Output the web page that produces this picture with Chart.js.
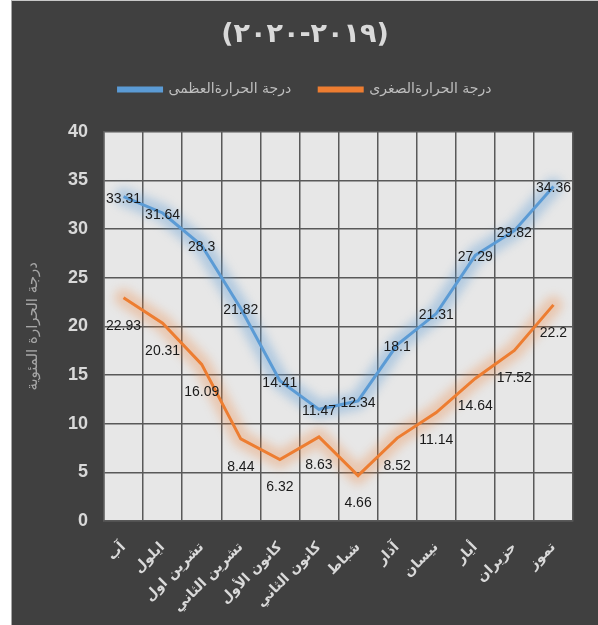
<!DOCTYPE html>
<html lang="ar">
<head>
<meta charset="utf-8">
<script src="https://cdn.jsdelivr.net/npm/chart.js@4/dist/chart.umd.min.js"></script>
<style>
  html, body { margin: 0; padding: 0; background: #ffffff; }
  #frame {
    position: absolute; left: 11px; top: 0; width: 587px; height: 625px;
    border-left: 1px solid #a6a6a6; border-top: 1px solid #c8c8c8; box-sizing: border-box;
  }
  #chart { position: absolute; left: 0; top: 0; background: #404040; }
</style>
</head>
<body>
<div id="frame"><canvas id="chart" width="586" height="624"></canvas></div>
<script>
// الأشهر من آب 2019 إلى تموز 2020
const months = ['آب', 'ايلول', 'تشرين اول', 'تشرين الثاني', 'كانون الأول', 'كانون الثاني',
  'شباط', 'آذار', 'نيسان', 'أيار', 'حزيران', 'تموز'];
const maxTemps = [33.31, 31.64, 28.3, 21.82, 14.41, 11.47, 12.34, 18.1, 21.31, 27.29, 29.82, 34.36];
const minTemps = [22.93, 20.31, 16.09, 8.44, 6.32, 8.63, 4.66, 8.52, 11.14, 14.64, 17.52, 22.2];
const yTicks = [0, 5, 10, 15, 20, 25, 30, 35, 40];

const titleText = '(٢٠١٩-٢٠٢٠)';
const maxLabel = 'درجة الحرارةالعظمى';
const minLabel = 'درجة الحرارةالصغرى';
const yTitle = 'درجة الحرارة المئوية';

const BLUE = '#5b9bd5';
const ORANGE = '#ed7d31';
const GRID = '#595959';

// خلفية منطقة الرسم
const plotBg = {
  id: 'plotBg',
  beforeDraw(chart) {
    const { ctx, chartArea: a } = chart;
    ctx.save();
    ctx.fillStyle = '#e7e7e7';
    ctx.fillRect(a.left, a.top, a.right - a.left, a.bottom - a.top);
    ctx.restore();
  }
};

// توهج حول الخطوط
const glow = {
  id: 'glow',
  beforeDatasetsDraw(chart) {
    const { ctx, chartArea: a } = chart;
    ctx.save();
    ctx.beginPath();
    ctx.rect(a.left, a.top, a.right - a.left, a.bottom - a.top);
    ctx.clip();
    chart.data.datasets.forEach((ds, i) => {
      const pts = chart.getDatasetMeta(i).data;
      ctx.save();
      ctx.filter = 'blur(5px)';
      ctx.strokeStyle = ds.glowColor;
      ctx.lineWidth = 18;
      ctx.lineJoin = 'round';
      ctx.lineCap = 'round';
      ctx.beginPath();
      pts.forEach((p, j) => j ? ctx.lineTo(p.x, p.y) : ctx.moveTo(p.x, p.y));
      ctx.stroke();
      ctx.restore();
    });
    ctx.restore();
  }
};

// تسميات القيم
const valueLabels = {
  id: 'valueLabels',
  afterDatasetsDraw(chart) {
    const { ctx } = chart;
    ctx.save();
    ctx.font = '14px "Liberation Sans", Arial, sans-serif';
    ctx.fillStyle = '#1a1a1a';
    ctx.textAlign = 'center';
    ctx.textBaseline = 'middle';
    chart.data.datasets.forEach((ds, i) => {
      chart.getDatasetMeta(i).data.forEach((p, j) => {
        ctx.fillText(String(ds.data[j]), p.x, p.y + ds.labelOffset);
      });
    });
    ctx.restore();
  }
};

new Chart(document.getElementById('chart'), {
  type: 'line',
  data: {
    labels: months,
    datasets: [
      {
        label: maxLabel, data: maxTemps, borderColor: BLUE, backgroundColor: BLUE,
        borderWidth: 3, pointRadius: 0, tension: 0, labelOffset: 2,
        glowColor: 'rgba(91, 155, 213, 0.38)'
      },
      {
        label: minLabel, data: minTemps, borderColor: ORANGE, backgroundColor: ORANGE,
        borderWidth: 3, pointRadius: 0, tension: 0, labelOffset: 28,
        glowColor: 'rgba(237, 125, 49, 0.3)'
      }
    ]
  },
  options: {
    responsive: false,
    animation: false,
    layout: { padding: 0 },
    plugins: {
      title: {
        display: true,
        text: titleText,
        color: '#d9d9d9',
        font: { family: '"DejaVu Sans", sans-serif', size: 27, weight: 'bold' },
        padding: { top: 18, bottom: 3 }
      },
      // فراغ بين وسيلة الإيضاح ومنطقة الرسم
      subtitle: {
        display: true,
        text: ' ',
        weight: 500,
        font: { size: 1 },
        padding: { top: 0, bottom: 24 }
      },
      legend: {
        display: true,
        labels: {
          color: '#bfbfbf',
          font: { family: '"DejaVu Sans", sans-serif', size: 14 },
          boxWidth: 43,
          boxHeight: 3,
          padding: 28
        }
      },
      tooltip: { enabled: false }
    },
    scales: {
      x: {
        offset: true,
        grid: { display: true, offset: true, color: GRID, lineWidth: 1.5, drawTicks: false },
        border: { display: true, color: GRID, width: 1.5 },
        ticks: {
          color: '#d9d9d9',
          font: { family: '"DejaVu Sans", sans-serif', size: 14, weight: 'bold' },
          minRotation: 45,
          maxRotation: 45,
          autoSkip: false,
          padding: 18
        },
        afterFit(s) { s.height = 104; }
      },
      y: {
        min: 0,
        max: 40,
        afterBuildTicks(s) { s.ticks = yTicks.map(v => ({ value: v })); },
        grid: { color: GRID, lineWidth: 1.5, drawTicks: false },
        border: { display: true, color: GRID, width: 1.5 },
        ticks: {
          color: '#d9d9d9',
          font: { family: '"Liberation Sans", Arial, sans-serif', size: 18, weight: 'bold' },
          padding: 16
        },
        title: {
          display: true,
          text: yTitle,
          color: '#a6a6a6',
          font: { family: '"DejaVu Sans", sans-serif', size: 15 },
          padding: { top: 12, bottom: 0 }
        },
        afterFit(s) { s.width = 92; }
      },
      yRight: {
        position: 'right',
        display: true,
        grid: { display: false },
        border: { display: false },
        ticks: { display: false },
        afterFit(s) { s.width = 25; }
      }
    }
  },
  plugins: [plotBg, glow, valueLabels]
});
</script>
</body>
</html>
